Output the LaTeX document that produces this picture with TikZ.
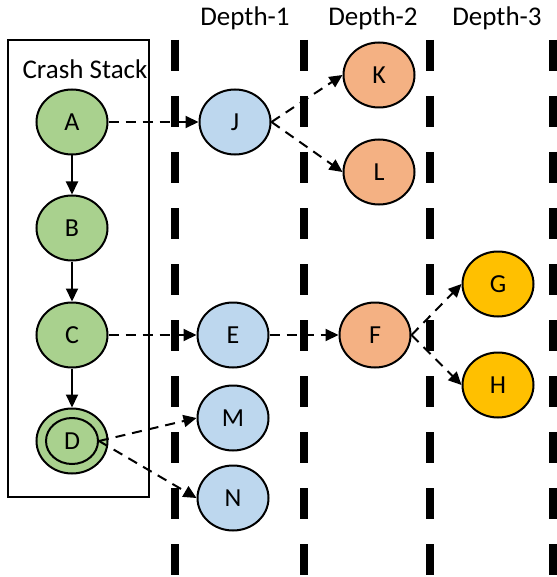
\documentclass[tikz,border=0pt]{standalone}
\usepackage{fontspec}
\setmainfont{Carlito}
\usetikzlibrary{shapes.geometric,arrows.meta}
\definecolor{cgreen}{HTML}{A9D18E}
\definecolor{cblue}{HTML}{BDD7EE}
\definecolor{corange}{HTML}{F4B183}
\definecolor{cgold}{HTML}{FFC000}
\begin{document}
\begin{tikzpicture}[x=1pt,y=-1pt,
  nd/.style={ellipse, draw, line width=2pt, minimum width=71pt, minimum height=65pt, inner sep=0pt, font=\fontsize{26}{26}\selectfont},
  gnode/.style={nd, fill=cgreen},
  bnode/.style={nd, fill=cblue},
  onode/.style={nd, fill=corange},
  ynode/.style={nd, fill=cgold},
  sep/.style={line width=8pt, dash pattern=on 31pt off 25pt},
  solidarr/.style={line width=2pt, -{Triangle[length=13pt,width=12pt]}},
  dasharr/.style={line width=2pt, dash pattern=on 10pt off 7pt, -{Triangle[length=13pt,width=12pt]}},
  lbl/.style={font=\fontsize{27}{27}\selectfont, inner sep=0pt}
]
\useasboundingbox (0,0) rectangle (556,577);
% separators
\foreach \x/\n in {175/s1,304/s2,430/s3,553/s4}{
  \coordinate (\n t) at (\x,40);
  \coordinate (\n b) at (\x,590);
  \draw[sep] (\n t) -- (\n b);
}
% crash stack box
\node[draw, line width=2pt, minimum width=141pt, minimum height=457pt, inner sep=0pt, anchor=north west] (box) at (7,39) {};
\node[lbl] (cs) at (85,69) {Crash Stack};
% depth labels
\node[lbl] (d1) at (245,18) {Depth-1};
\node[lbl] (d2) at (373,18) {Depth-2};
\node[lbl] (d3) at (497,18) {Depth-3};
% nodes
\node[gnode] (A) at (72,122) {};
\node[gnode] (B) at (72,228) {};
\node[gnode] (C) at (72,335) {};
\node[gnode] (D) at (72,441) {};
\node[ellipse, draw, line width=2pt, minimum width=52pt, minimum height=46pt, inner sep=0pt, font=\fontsize{26}{26}\selectfont] (Din) at (72,441) {D};
\node[font=\fontsize{26}{26}\selectfont] at (A) {A};
\node[font=\fontsize{26}{26}\selectfont] at (B) {B};
\node[font=\fontsize{26}{26}\selectfont] at (C) {C};
\node[bnode] (J) at (235,122) {J};
\node[bnode] (E) at (233,335) {E};
\node[bnode] (M) at (233,418) {M};
\node[bnode] (N) at (233,498) {N};
\node[onode] (K) at (379,75) {K};
\node[onode] (L) at (379,172) {L};
\node[onode] (F) at (375,335) {F};
\node[ynode] (G) at (498,284) {G};
\node[ynode] (H) at (498,385) {H};
% edges
\draw[solidarr] (A) -- (B);
\draw[solidarr] (B) -- (C);
\draw[solidarr] (C) -- (D);
\draw[dasharr] (A.east) -- (J.west);
\draw[dasharr] (J.east) -- (K.west);
\draw[dasharr] (J.east) -- (L.west);
\draw[dasharr] (C.east) -- (E.west);
\draw[dasharr] (E.east) -- (F.west);
\draw[dasharr] (F.east) -- (G.west);
\draw[dasharr] (F.east) -- (H.west);
\draw[dasharr] (Din.east) -- (M.west);
\draw[dasharr] (Din.east) -- (N.west);
\end{tikzpicture}
\end{document}
